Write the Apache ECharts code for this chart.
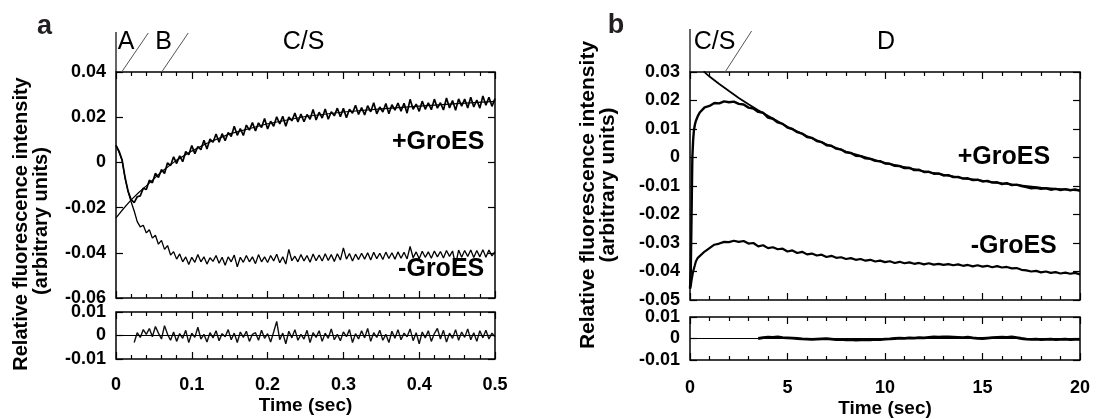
<!DOCTYPE html>
<html><head><meta charset="utf-8">
<script src="https://cdn.jsdelivr.net/npm/echarts@6/dist/echarts.min.js"></script>
<style>html,body{margin:0;padding:0;background:#fff;}#c{width:1097px;height:419px;}</style>
</head><body><div id="c"></div>
<script>
// ---------------- Panel a data (t = 0 ... 0.5 s, step 0.004) ----------------
const aStep = 0.004;
const aPlus = [
0.0075,0.0050,0.0012,-0.0068,-0.0128,-0.0165,-0.0178,-0.0152,-0.0148,-0.0114,
-0.0120,-0.0079,-0.0090,-0.0048,-0.0067,-0.0032,-0.0049,-0.0002,-0.0014,0.0025,
-0.0005,0.0029,0.0003,0.0048,0.0034,0.0075,0.0039,0.0070,0.0056,0.0098,
0.0059,0.0103,0.0089,0.0126,0.0089,0.0127,0.0096,0.0132,0.0115,0.0160,
0.0120,0.0150,0.0119,0.0165,0.0143,0.0176,0.0139,0.0175,0.0154,0.0194,
0.0148,0.0182,0.0160,0.0202,0.0170,0.0204,0.0160,0.0201,0.0184,0.0218,
0.0179,0.0214,0.0180,0.0212,0.0191,0.0234,0.0188,0.0222,0.0196,0.0236,
0.0191,0.0224,0.0206,0.0240,0.0202,0.0239,0.0198,0.0235,0.0218,0.0253,
0.0212,0.0243,0.0210,0.0251,0.0224,0.0264,0.0215,0.0245,0.0223,0.0261,
0.0215,0.0255,0.0231,0.0263,0.0226,0.0262,0.0218,0.0279,0.0235,0.0258,
0.0226,0.0271,0.0235,0.0264,0.0233,0.0280,0.0240,0.0264,0.0232,0.0285,
0.0241,0.0274,0.0231,0.0281,0.0249,0.0280,0.0241,0.0288,0.0245,0.0276,
0.0240,0.0294,0.0253,0.0288,0.0248,0.0282];
const aMinus = [
0.0075,0.0045,0.0008,-0.0070,-0.0130,-0.0175,-0.0215,-0.0262,-0.0285,-0.0278,
-0.0312,-0.0298,-0.0335,-0.0322,-0.0362,-0.0345,-0.0385,-0.0368,-0.0410,-0.0395,
-0.0428,-0.0405,-0.0440,-0.0418,-0.0452,-0.0420,-0.0442,-0.0408,-0.0440,-0.0418,
-0.0450,-0.0422,-0.0438,-0.0412,-0.0446,-0.0420,-0.0455,-0.0418,-0.0440,-0.0410,
-0.0462,-0.0420,-0.0442,-0.0412,-0.0440,-0.0418,-0.0448,-0.0408,-0.0440,-0.0418,
-0.0443,-0.0412,-0.0436,-0.0406,-0.0444,-0.0418,-0.0450,-0.0385,-0.0435,-0.0415,
-0.0440,-0.0408,-0.0436,-0.0412,-0.0442,-0.0405,-0.0435,-0.0410,-0.0436,-0.0404,
-0.0434,-0.0408,-0.0438,-0.0404,-0.0432,-0.0378,-0.0428,-0.0403,-0.0436,-0.0406,
-0.0430,-0.0402,-0.0428,-0.0400,-0.0432,-0.0398,-0.0426,-0.0402,-0.0430,-0.0397,
-0.0425,-0.0400,-0.0428,-0.0396,-0.0424,-0.0398,-0.0427,-0.0372,-0.0422,-0.0396,
-0.0426,-0.0393,-0.0420,-0.0396,-0.0424,-0.0392,-0.0418,-0.0394,-0.0423,-0.0390,
-0.0416,-0.0392,-0.0455,-0.0388,-0.0420,-0.0390,-0.0416,-0.0388,-0.0421,-0.0390,
-0.0418,-0.0386,-0.0420,-0.0388,-0.0414,-0.0395];
const aFitT    = [0, 0.01, 0.02, 0.03, 0.04, 0.05, 0.06, 0.08, 0.1, 0.12, 0.15, 0.2, 0.25, 0.3, 0.35, 0.4, 0.45, 0.5];
const aFitPlus = [-0.0245,-0.0204,-0.0166,-0.0133,-0.0104,-0.0073,-0.0041,0.0010,0.0050,0.0085,0.0126,0.0171,0.0203,0.0223,0.0237,0.0249,0.0260,0.0270];
// residuals (t = 0.024 ... step 0.004)
const aResStart = 0.024;
const aRes = [
-0.0030,0.0012,-0.0008,0.0025,0.0005,0.0030,-0.0005,0.0038,0.0010,-0.0015,
0.0042,0.0005,-0.0020,0.0015,-0.0025,0.0008,-0.0012,0.0022,-0.0030,0.0010,
-0.0008,0.0035,-0.0015,0.0005,-0.0028,0.0012,-0.0010,0.0020,-0.0022,0.0008,
-0.0005,0.0025,-0.0018,0.0010,-0.0030,0.0015,-0.0008,0.0018,-0.0025,0.0005,
0.0012,-0.0020,0.0022,-0.0012,0.0008,-0.0028,0.0015,0.0060,-0.0018,0.0010,
-0.0035,0.0018,-0.0010,0.0025,-0.0020,0.0005,-0.0015,0.0022,-0.0030,0.0012,
-0.0008,0.0020,-0.0025,0.0010,-0.0012,0.0028,-0.0018,0.0005,-0.0022,0.0015,
-0.0005,0.0025,-0.0030,0.0008,-0.0015,0.0020,-0.0010,0.0030,-0.0025,0.0012,
-0.0008,0.0022,-0.0020,0.0005,-0.0030,0.0018,-0.0012,0.0025,-0.0018,0.0010,
-0.0005,0.0028,-0.0022,0.0012,-0.0035,0.0015,-0.0010,0.0020,-0.0025,0.0008,
0.0030,-0.0015,0.0022,-0.0028,0.0010,-0.0012,0.0025,-0.0020,0.0015,-0.0008,
0.0028,-0.0018,0.0012,-0.0025,0.0020,-0.0010,0.0022,-0.0015,0.0010,-0.0005];

// ---------------- Panel b data ----------------
const bEarlyT     = [0, 0.04, 0.08, 0.12, 0.16, 0.2, 0.25, 0.3, 0.4];
const bPlusEarly  = [-0.046, -0.040, -0.020, 0.000, 0.006, 0.0095, 0.0115, 0.0128, 0.0145];
const bMinusEarly = [-0.046, -0.045, -0.043, -0.0415, -0.040, -0.039, -0.0378, -0.0365, -0.0352];
const bStart = 0.5, bStep = 0.25;   // main samples: t = 0.5 ... 20
const bPlus = [
0.0158,0.0176,
0.0181,0.0191,0.0190,0.0197, 0.0194,0.0196,0.0188,0.0186, 0.0175,0.0172,0.0160,0.0157,
0.0140,0.0136,0.0123,0.0118, 0.0105,0.0100,0.0089,0.0084, 0.0072,0.0069,0.0058,0.0054,
0.0043,0.0041,0.0031,0.0028, 0.0018,0.0016,0.0006,0.0005, -0.0003,-0.0005,-0.0012,-0.0013,
-0.0021,-0.0022,-0.0029,-0.0030, -0.0037,-0.0036,-0.0044,-0.0043, -0.0051,-0.0050,-0.0057,-0.0056,
-0.0063,-0.0062,-0.0069,-0.0068, -0.0074,-0.0073,-0.0079,-0.0078, -0.0084,-0.0082,-0.0088,-0.0087,
-0.0093,-0.0090,-0.0097,-0.0095, -0.0100,-0.0104,-0.0108,-0.0106, -0.0110,-0.0108,-0.0113,-0.0110,
-0.0114,-0.0111,-0.0115,-0.0112, -0.0116];
const bMinus = [
-0.0352,-0.0330,
-0.0318,-0.0306,-0.0302,-0.0296, -0.0297,-0.0292,-0.0296,-0.0293, -0.0302,-0.0300,-0.0312,-0.0308,
-0.0318,-0.0315,-0.0322,-0.0320, -0.0330,-0.0326,-0.0335,-0.0331, -0.0340,-0.0337,-0.0344,-0.0341,
-0.0349,-0.0345,-0.0352,-0.0350, -0.0356,-0.0353,-0.0359,-0.0356, -0.0362,-0.0359,-0.0365,-0.0362,
-0.0367,-0.0364,-0.0370,-0.0366, -0.0371,-0.0368,-0.0373,-0.0370, -0.0375,-0.0371,-0.0376,-0.0373,
-0.0377,-0.0374,-0.0378,-0.0375, -0.0380,-0.0377,-0.0382,-0.0378, -0.0383,-0.0380,-0.0385,-0.0381,
-0.0386,-0.0384,-0.0389,-0.0388, -0.0394,-0.0396,-0.0400,-0.0398, -0.0403,-0.0400,-0.0405,-0.0402,
-0.0407,-0.0404,-0.0408,-0.0405, -0.0410];
const bFitT    = [0.7, 1, 1.5, 2, 2.5, 3, 3.5, 4, 5, 6, 7, 8, 10, 12, 14, 16, 18, 20];
const bFitPlus = [0.0302,0.0284,0.0258,0.0233,0.0209,0.0187,0.0166,0.0146,0.0108,0.0075,0.0046,0.0021,-0.0019,-0.0049,-0.0072,-0.0091,-0.0106,-0.0116];
const bResStart = 3.5;
const bRes = [
0.0000,0.0004,
0.0006,0.0005,0.0007,0.0004, 0.0003,0.0002,0.0000,-0.0002, -0.0003,-0.0004,-0.0003,-0.0002,
-0.0001,-0.0003,-0.0005,-0.0004, -0.0006,-0.0005,-0.0007,-0.0006, -0.0005,-0.0006,-0.0004,-0.0005,
-0.0003,-0.0002,0.0000,0.0002, 0.0001,0.0003,0.0002,0.0004, 0.0003,0.0005,0.0007,0.0006,
0.0008,0.0007,0.0006,0.0005, 0.0004,0.0006,0.0003,0.0001, 0.0000,0.0002,0.0004,0.0005,
0.0006,0.0005,0.0007,0.0004, 0.0000,-0.0003,-0.0004,-0.0003, -0.0005,-0.0004,-0.0003,-0.0005,
-0.0004,-0.0003,-0.0005,-0.0004, -0.0004];

// ---------------- Tick labels ----------------
const aXLabels    = ['0','0.1','0.2','0.3','0.4','0.5'];
const aYLabels    = ['-0.06','-0.04','-0.02','0','0.02','0.04'];
const resYLabels  = ['-0.01','0','0.01'];
const bXLabels    = ['0','5','10','15','20'];
const bYLabels    = ['-0.05','-0.04','-0.03','-0.02','-0.01','0','0.01','0.02','0.03'];

// ---------------- Annotations ----------------
const aMarks = ['A','B','C/S'];  const aMarkT = [0.0132, 0.0627, 0.2474];
const aSlashT = [[0.0075, 0.0426], [0.0603, 0.0953]];
const bMarks = ['C/S','D'];      const bMarkT = [1.26, 10.05];
const bSlashT = [[1.8, 3.16]];
const seriesNames = ['+GroES','-GroES'];
const aNameT = [0.425, 0.429], aNameV = [0.009, -0.047];
const bNameT = [16.1, 16.6],   bNameV = [0.0, -0.031];

// ---------------- Build ----------------
const FONT = '"Liberation Sans", Arial, Helvetica, sans-serif';
const pairs = (ts, vs) => vs.map((v, i) => [ts[i], v]);
const grid = (start, step, n) => { const t = []; for (let i = 0; i < n; i++) t.push(+(start + i * step).toFixed(4)); return t; };

const aT = grid(0, aStep, aPlus.length);
const aResT = grid(aResStart, aStep, aRes.length);
const bT = grid(bStart, bStep, bPlus.length);
const bResT = grid(bResStart, bStep, bRes.length);

const tickStyle = {color:'#000', width:1.2};
function xAx(gi, min, max, interval, pos, labels, name, gap, margin) {
  return {
    type:'value', gridIndex:gi, min, max, interval, position:pos,
    axisLine:{show:false, onZero:false}, splitLine:{show:false},
    axisTick:{show:true, inside:true, length:7, lineStyle:tickStyle},
    minorTick:{show:true, splitNumber:5, length:4, lineStyle:tickStyle},
    axisLabel: labels ? {show:true, margin:margin, color:'#000', fontFamily:FONT, fontWeight:'bold', fontSize:18,
      showMinLabel:true, showMaxLabel:true,
      formatter: v => labels[Math.round((v - min) / interval)]} : {show:false},
    name: name || '', nameLocation:'middle', nameGap: gap || 0,
    nameTextStyle:{color:'#000', fontFamily:FONT, fontWeight:'bold', fontSize:19}
  };
}
function yAx(gi, min, max, interval, pos, labels) {
  return {
    type:'value', gridIndex:gi, min, max, interval, position:pos,
    axisLine:{show:false, onZero:false}, splitLine:{show:false},
    axisTick:{show:true, inside:true, length:7, lineStyle:tickStyle},
    axisLabel: labels ? {show:true, margin:10, color:'#000', fontFamily:FONT, fontWeight:'bold', fontSize:18,
      showMinLabel:true, showMaxLabel:true,
      formatter: v => labels[Math.round((v - min) / interval)]} : {show:false}
  };
}
const gridStyle = {show:true, borderColor:'#000', borderWidth:1.5, backgroundColor:'transparent'};
const lineS = (xi, yi, data, w, color) => ({
  type:'line', xAxisIndex:xi, yAxisIndex:yi, data, showSymbol:false, symbol:'none',
  lineStyle:{color: color || '#000', width:w}, silent:true, animation:false, clip:true, z:3
});

const chart = echarts.init(document.getElementById('c'), null, {renderer:'canvas'});
const option = {
  animation:false,
  backgroundColor:'#fff',
  grid:[
    Object.assign({left:116, top:72, width:379, height:226}, gridStyle),
    Object.assign({left:116, top:312, width:379, height:47}, gridStyle),
    Object.assign({left:690, top:72, width:390, height:228}, gridStyle),
    Object.assign({left:690, top:317, width:390, height:46}, gridStyle)
  ],
  xAxis:[
    xAx(0, 0, 0.5, 0.1, 'bottom'), xAx(0, 0, 0.5, 0.1, 'top'),
    xAx(1, 0, 0.5, 0.1, 'bottom', aXLabels, 'Time (sec)', 37, 17), xAx(1, 0, 0.5, 0.1, 'top'),
    xAx(2, 0, 20, 5, 'bottom'), xAx(2, 0, 20, 5, 'top'),
    xAx(3, 0, 20, 5, 'bottom', bXLabels, 'Time (sec)', 39, 19), xAx(3, 0, 20, 5, 'top')
  ],
  yAxis:[
    yAx(0, -0.06, 0.04, 0.02, 'left', aYLabels), yAx(0, -0.06, 0.04, 0.02, 'right'),
    yAx(1, -0.01, 0.01, 0.01, 'left', resYLabels), yAx(1, -0.01, 0.01, 0.01, 'right'),
    yAx(2, -0.05, 0.03, 0.01, 'left', bYLabels), yAx(2, -0.05, 0.03, 0.01, 'right'),
    yAx(3, -0.01, 0.01, 0.01, 'left', resYLabels), yAx(3, -0.01, 0.01, 0.01, 'right')
  ],
  series:[
    lineS(0, 0, pairs(aT, aMinus), 1.3),
    lineS(0, 0, pairs(aT, aPlus), 1.7),
    lineS(0, 0, pairs(aFitT, aFitPlus), 1.2),
    Object.assign(lineS(2, 2, pairs(aResT, aRes), 1.4, '#111'), {
      markLine:{silent:true, symbol:'none', label:{show:false}, animation:false,
        lineStyle:{color:'#000', width:1.2, type:'solid'}, data:[{yAxis:0}]}
    }),
    lineS(4, 4, pairs(bEarlyT, bPlusEarly).concat(pairs(bT, bPlus)), 2.4),
    lineS(4, 4, pairs(bEarlyT, bMinusEarly).concat(pairs(bT, bMinus)), 2.2),
    lineS(4, 4, pairs(bFitT, bFitPlus), 1.8),
    Object.assign(lineS(6, 6, pairs(bResT, bRes), 2.8), {
      markLine:{silent:true, symbol:'none', label:{show:false}, animation:false,
        lineStyle:{color:'#000', width:1.2, type:'solid'}, data:[{yAxis:0}]}
    })
  ]
};
chart.setOption(option);

// ---------- annotations positioned through the axes ----------
const px = (xi, yi, t, v) => chart.convertToPixel({xAxisIndex:xi, yAxisIndex:yi}, [t, v]);
const g = [];
const txt = (x, y, s, size, weight) => g.push({
  type:'text', x, y, silent:true, z:10,
  style:{text:s, fill:'#000', font: (weight||'normal') + ' ' + size + 'px ' + FONT, textAlign:'center', textVerticalAlign:'middle'}
});
const seg = (x1, y1, x2, y2, color, w) => g.push({type:'line', silent:true, z:10,
  shape:{x1, y1, x2, y2}, style:{stroke:color, lineWidth:w}});

// panel letters
g.push({type:'text', x:44.5, y:40, silent:true, style:{text:'a', fill:'#231f20', font:'bold 27px ' + FONT, textAlign:'center', textVerticalAlign:'bottom'}});
g.push({type:'text', x:616, y:39, silent:true, style:{text:'b', fill:'#231f20', font:'bold 27px ' + FONT, textAlign:'center', textVerticalAlign:'bottom'}});

// panel a top annotations
const aTop = px(0, 0, 0, 0.04);
seg(aTop[0], aTop[1], aTop[0], 32, '#000', 1.2);
aSlashT.forEach(s => { const p1 = px(0,0,s[0],0.04), p2 = px(0,0,s[1],0.04); seg(p1[0], p1[1], p2[0], 33, '#555', 1); });
aMarks.forEach((m, i) => { const p = px(0,0,aMarkT[i],0.04); txt(p[0], 42, m, 25, 'normal'); });
// panel b top annotations
const bTop = px(4, 4, 0, 0.03);
seg(bTop[0], bTop[1], bTop[0], 29, '#000', 1.2);
bSlashT.forEach(s => { const p1 = px(4,4,s[0],0.03), p2 = px(4,4,s[1],0.03); seg(p1[0], p1[1], p2[0], 31, '#555', 1); });
bMarks.forEach((m, i) => { const p = px(4,4,bMarkT[i],0.03); txt(p[0], 42.5, m, 25, 'normal'); });

// series names
seriesNames.forEach((n, i) => { const p = px(0,0,aNameT[i],aNameV[i]); txt(p[0], p[1], n, 25, 'bold'); });
seriesNames.forEach((n, i) => { const p = px(4,4,bNameT[i],bNameV[i]); txt(p[0], p[1], n, 25, 'bold'); });

// y-axis titles (rotated)
const yTitle = (x, y, s, size) => g.push({type:'text', x, y, rotation:Math.PI/2, silent:true,
  style:{text:s, fill:'#000', font:'bold ' + size + 'px ' + FONT, textAlign:'center', textVerticalAlign:'middle'}});
yTitle(21, 224, 'Relative fluorescence intensity', 20);
yTitle(41, 221, '(arbitrary units)', 20);
yTitle(588, 195, 'Relative fluorescence intensity', 21);
yTitle(608, 185, '(arbitrary units)', 21);

chart.setOption({graphic:{elements:g}});
</script></body></html>
